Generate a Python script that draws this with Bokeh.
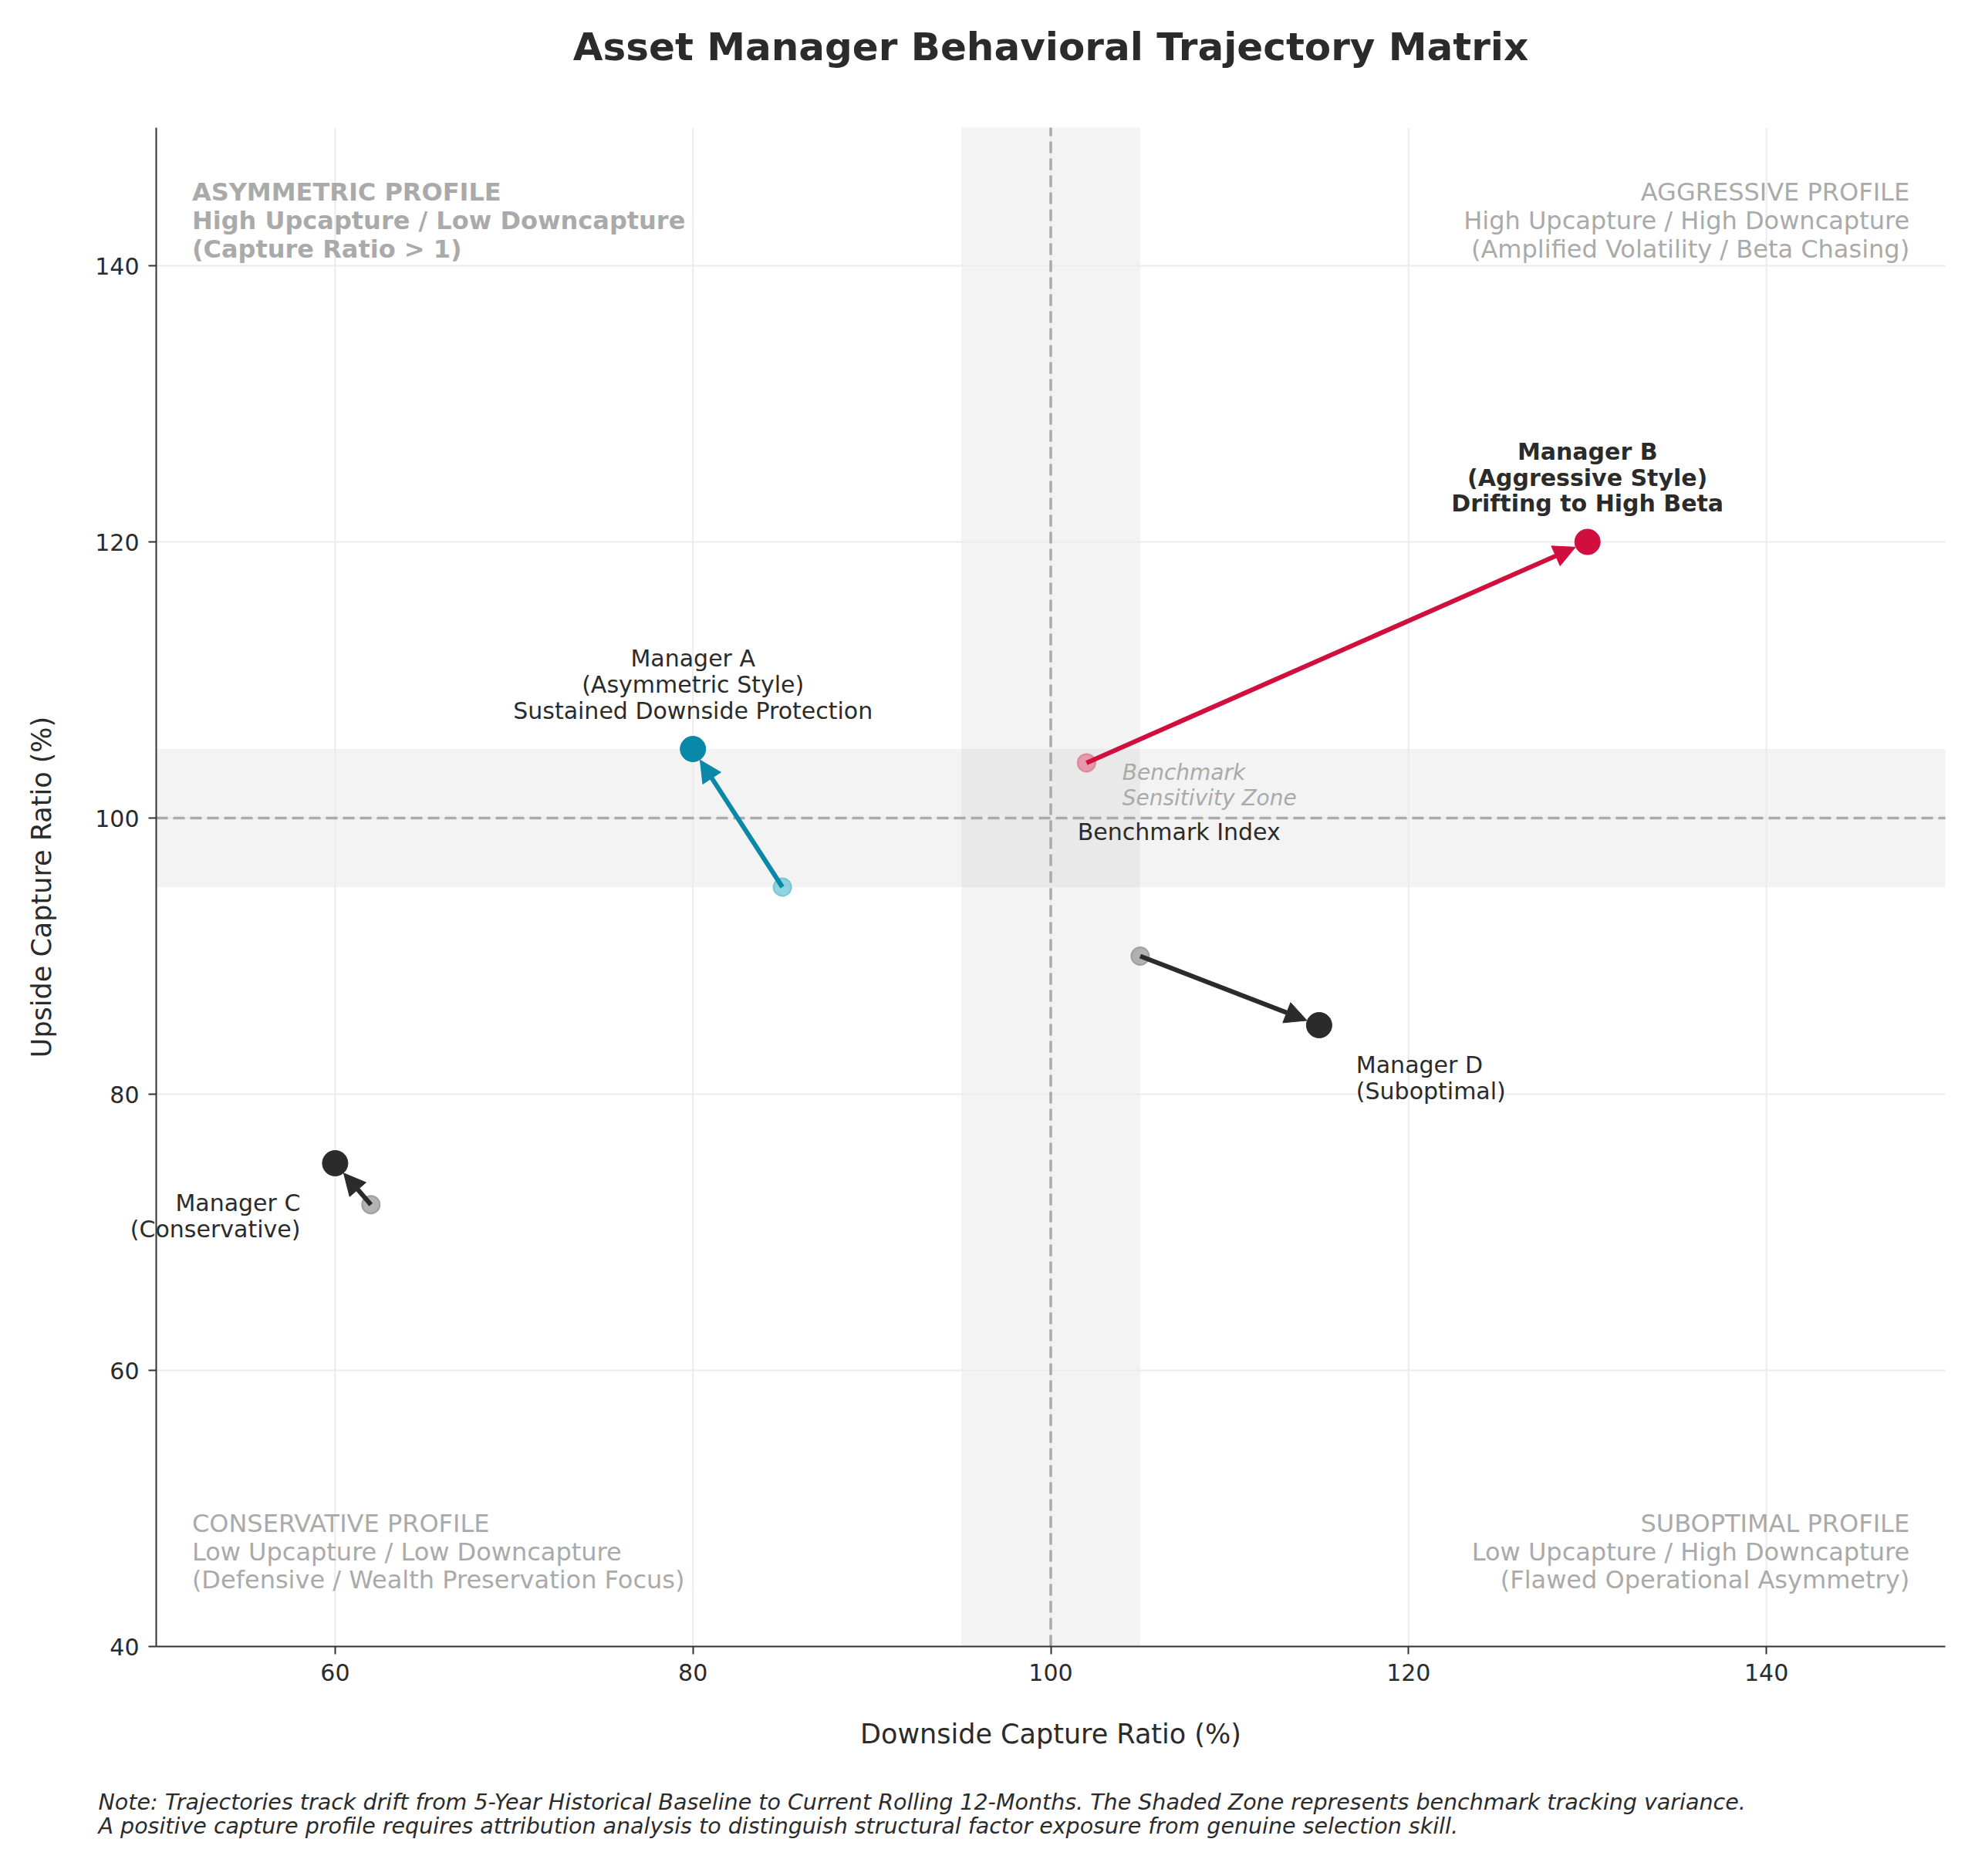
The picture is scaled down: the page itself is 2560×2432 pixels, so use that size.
import numpy as np
from bokeh.plotting import figure
from bokeh.models import (Arrow, NormalHead, BoxAnnotation, Label,
                          SingleIntervalTicker, Range1d, ColumnDataSource)
from bokeh.embed import file_html
from bokeh.resources import INLINE

FONT = "DejaVu Sans"

# --- data -------------------------------------------------------------
managers = ["Manager A", "Manager B", "Manager C", "Manager D"]
down_hist = [85, 102, 62, 105]      # 5-year historical downside capture (%)
up_hist = [95, 104, 72, 90]         # 5-year historical upside capture (%)
down_curr = [80, 130, 60, 115]      # rolling 12-month downside capture (%)
up_curr = [105, 120, 75, 85]        # rolling 12-month upside capture (%)

labels = [
    "Manager A\n(Asymmetric Style)\nSustained Downside Protection",
    "Manager B\n(Aggressive Style)\nDrifting to High Beta",
    "Manager C\n(Conservative)",
    "Manager D\n(Suboptimal)",
]
main_colors = ["#0a88a8", "#d10f3e", "#2b2b2b", "#2b2b2b"]
hist_colors = ["#6fc3d6", "#e27f97", "#9a9a9a", "#9a9a9a"]

benchmark = 100
band_lo, band_hi = 95, 105

x_lo, x_hi = 50, 150
y_lo, y_hi = 40, 150
tick_step = 20

quadrants = [
    ("ASYMMETRIC PROFILE\nHigh Upcapture / Low Downcapture\n(Capture Ratio > 1)", 52, 146.4, "left", "top", "bold"),
    ("AGGRESSIVE PROFILE\nHigh Upcapture / High Downcapture\n(Amplified Volatility / Beta Chasing)", 148, 146.4, "right", "top", "normal"),
    ("CONSERVATIVE PROFILE\nLow Upcapture / Low Downcapture\n(Defensive / Wealth Preservation Focus)", 52, 43.75, "left", "bottom", "normal"),
    ("SUBOPTIMAL PROFILE\nLow Upcapture / High Downcapture\n(Flawed Operational Asymmetry)", 148, 43.75, "right", "bottom", "normal"),
]

title_text = "Asset Manager Behavioral Trajectory Matrix"
x_label = "Downside Capture Ratio (%)"
y_label = "Upside Capture Ratio (%)"
note_text = ("Note: Trajectories track drift from 5-Year Historical Baseline to Current Rolling 12-Months. "
             "The Shaded Zone represents benchmark tracking variance.\n"
             "A positive capture profile requires attribution analysis to distinguish structural "
             "factor exposure from genuine selection skill.")

# --- canvas layout ----------------------------------------------------
# The plot frame fills the whole canvas; the two spines are drawn at
# fixed data positions so captions may run freely past them.
W, H = 2560, 2432
spine_l, spine_r, spine_t, spine_b = 202, 2521, 165, 2134
px_x = (spine_r - spine_l) / (x_hi - x_lo)
px_y = (spine_b - spine_t) / (y_hi - y_lo)
view_x = (x_lo - spine_l / px_x, x_hi + (W - spine_r) / px_x)
view_y = (y_lo - (H - spine_b) / px_y, y_hi + spine_t / px_y)

p = figure(width=W, height=H, output_backend="svg", toolbar_location=None,
           x_range=Range1d(*view_x), y_range=Range1d(*view_y),
           min_border_left=0, min_border_right=0,
           min_border_top=0, min_border_bottom=0)
p.background_fill_color = "white"
p.border_fill_color = "white"
p.outline_line_color = None
p.xgrid.visible = False
p.ygrid.visible = False

for ax in (p.xaxis[0], p.yaxis[0]):
    ax.ticker = SingleIntervalTicker(interval=tick_step, num_minor_ticks=0)
    ax.axis_line_color = "#333333"
    ax.axis_line_width = 2
    ax.major_tick_line_color = "#333333"
    ax.major_tick_line_width = 2
    ax.major_tick_out = 10
    ax.major_tick_in = 0
    ax.minor_tick_line_color = None
    ax.major_label_text_font = FONT
    ax.major_label_text_font_size = "30px"
    ax.major_label_text_color = "#2b2b2b"
    ax.major_label_standoff = 12
    ax.axis_label_text_font = FONT
    ax.axis_label_text_font_size = "35px"
    ax.axis_label_text_font_style = "normal"
    ax.axis_label_text_color = "#2b2b2b"
    ax.axis_label_standoff = 46

p.xaxis.bounds = (x_lo, x_hi)
p.xaxis.fixed_location = y_lo
p.xaxis.axis_label = x_label
p.yaxis.bounds = (y_lo, y_hi)
p.yaxis.fixed_location = x_lo
p.yaxis.axis_label = y_label

# grid lines at the tick positions, confined to the axes box
x_grid = np.arange(x_lo + 10, x_hi, tick_step)
y_grid = np.arange(y_lo + tick_step, y_hi, tick_step)
p.segment(x0=x_grid, y0=[y_lo] * len(x_grid), x1=x_grid, y1=[y_hi] * len(x_grid),
          line_color="#ebebeb", line_width=2, level="underlay")
p.segment(x0=[x_lo] * len(y_grid), y0=y_grid, x1=[x_hi] * len(y_grid), y1=y_grid,
          line_color="#ebebeb", line_width=2, level="underlay")

# benchmark tracking bands
p.add_layout(BoxAnnotation(left=band_lo, right=band_hi, bottom=y_lo, top=y_hi,
                           fill_color="#c4c4c4", fill_alpha=0.2, line_color=None, level="image"))
p.add_layout(BoxAnnotation(left=x_lo, right=x_hi, bottom=band_lo, top=band_hi,
                           fill_color="#c4c4c4", fill_alpha=0.2, line_color=None, level="image"))

# benchmark crosshair
p.segment(x0=[benchmark, x_lo], y0=[y_lo, benchmark], x1=[benchmark, x_hi], y1=[y_hi, benchmark],
          line_color="#aaaaaa", line_width=3.5, line_dash="15 7", level="underlay")

# historical baselines
src_hist = ColumnDataSource(dict(x=down_hist, y=up_hist, c=hist_colors))
p.scatter("x", "y", source=src_hist, size=23, fill_color="c", fill_alpha=0.75,
          line_color="c", line_alpha=0.9, line_width=2)

# drift arrows, tip stopped at the edge of the current marker
end_gap = 17
for i in range(len(managers)):
    dx = (down_curr[i] - down_hist[i]) * px_x
    dy = (up_curr[i] - up_hist[i]) * px_y
    d = np.hypot(dx, dy)
    xe = down_curr[i] - dx / d * end_gap / px_x
    ye = up_curr[i] - dy / d * end_gap / px_y
    p.add_layout(Arrow(x_start=down_hist[i], y_start=up_hist[i], x_end=xe, y_end=ye,
                       line_color=main_colors[i], line_width=6, level="glyph",
                       end=NormalHead(size=28, fill_color=main_colors[i],
                                      line_color=main_colors[i], line_width=1)))

# current positions
src_curr = ColumnDataSource(dict(x=down_curr, y=up_curr, c=main_colors))
p.scatter("x", "y", source=src_curr, size=33, fill_color="c", line_color="c")

# manager annotations
lab_style = [
    dict(text_align="center", text_baseline="bottom", x_offset=0, y_offset=32, font_style="normal"),
    dict(text_align="center", text_baseline="bottom", x_offset=0, y_offset=32, font_style="bold"),
    dict(text_align="right", text_baseline="top", x_offset=-45, y_offset=-34, font_style="normal"),
    dict(text_align="left", text_baseline="top", x_offset=48, y_offset=-34, font_style="normal"),
]
for i, st in enumerate(lab_style):
    p.add_layout(Label(x=down_curr[i], y=up_curr[i], text=labels[i],
                       text_font=FONT, text_font_size="30px", text_color="#2b2b2b",
                       text_font_style=st["font_style"], text_align=st["text_align"],
                       text_baseline=st["text_baseline"], x_offset=st["x_offset"],
                       y_offset=st["y_offset"], text_line_height=0.97))

# benchmark texts
p.add_layout(Label(x=101.5, y=99.0, text="Benchmark Index", text_font=FONT,
                   text_font_size="30px", text_color="#2b2b2b",
                   text_baseline="middle", text_align="left"))
p.add_layout(Label(x=104, y=104.2, text="Benchmark\nSensitivity Zone", text_font=FONT,
                   text_font_size="28px", text_color="#aaaaaa", text_font_style="italic",
                   text_baseline="top", text_align="left", text_line_height=1.0))

# quadrant descriptions
for txt, qx, qy, al, bl, fs in quadrants:
    p.add_layout(Label(x=qx, y=qy, text=txt, text_font=FONT, text_font_size="32px",
                       text_color="#aaaaaa", text_font_style=fs, text_align=al,
                       text_baseline=bl, text_line_height=0.97))

# title and footnote (screen units: pixels from the canvas bottom-left)
p.add_layout(Label(x=(spine_l + spine_r) / 2, y=H - 60, x_units="screen", y_units="screen",
                   text=title_text, text_font=FONT, text_font_size="50px",
                   text_font_style="bold", text_color="#2b2b2b",
                   text_align="center", text_baseline="middle"))
p.add_layout(Label(x=127, y=H - 2319, x_units="screen", y_units="screen",
                   text=note_text, text_font=FONT, text_font_size="28.5px",
                   text_font_style="italic", text_color="#2b2b2b",
                   text_align="left", text_baseline="top", text_line_height=0.95))

open("out.html", "w").write(file_html(p, INLINE))
